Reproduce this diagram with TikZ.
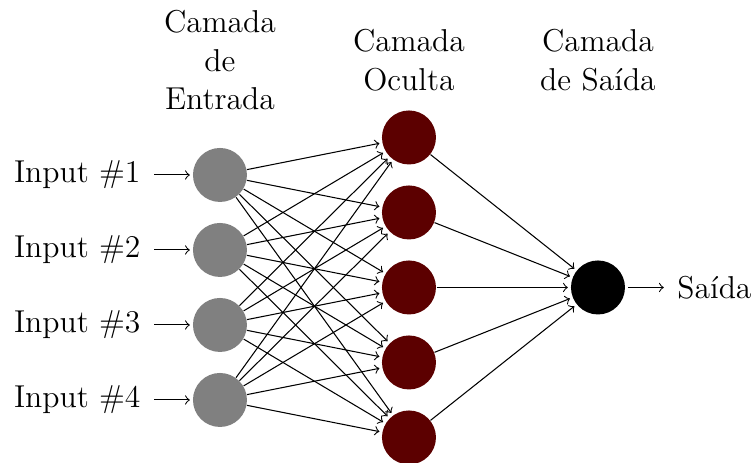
\documentclass[12pt,tikz,border=0pt]{standalone}
\usetikzlibrary{positioning}
\definecolor{ocultacor}{RGB}{92,0,0}
\begin{document}
\begin{tikzpicture}[shorten >=1pt, ->, draw=black, node distance=2.5cm]
	%	setup
	\def\layersep{2.52}
	\tikzset{
		neuron/.style = {circle, fill=black!25, minimum size=0.72cm, inner sep=0pt},
		input neuron/.style = {neuron, fill=black!50},
		output neuron/.style = {neuron, fill=black},
		hidden neuron/.style = {neuron, fill=ocultacor},
		annot/.style = {text width=4em, text centered},
		every pin edge/.style = {<-, shorten <=1pt, thin}
	}
	\useasboundingbox (-2.933, 1.333) rectangle (7.107, -4.84);
	
	%	camada de entrada
	\foreach \name / \y in {1,...,4}
		\node[input neuron, pin=left:Input \#\y] (I-\name) at (0, -\y) {};
	
	%	camada oculta
	\foreach \name / \y in {1,...,5}
		\node[hidden neuron] (H-\name) at (\layersep, -\y + 0.5) {};
	
	%	camada de saida
	\node[output neuron, pin={[pin edge={->}]right:Saída}] (O) at (2*\layersep, -2.5) {};
	
	%	conexoes
	\foreach \source in {1,...,4}
		\foreach \dest in {1,...,5}
			\draw (I-\source) -- (H-\dest);
	\foreach \source in {1,...,5}
		\draw (H-\source) -- (O);
	
	%	rotulos
	\node[annot, above=1.03cm of H-1.center, anchor=center] (hl) {Camada Oculta};
	\node[annot, left=\layersep cm of hl.center, anchor=center] (il) {Camada de Entrada};
	\node[annot, right=\layersep cm of hl.center, anchor=center] (ol) {Camada de Saída};
\end{tikzpicture}
\end{document}
